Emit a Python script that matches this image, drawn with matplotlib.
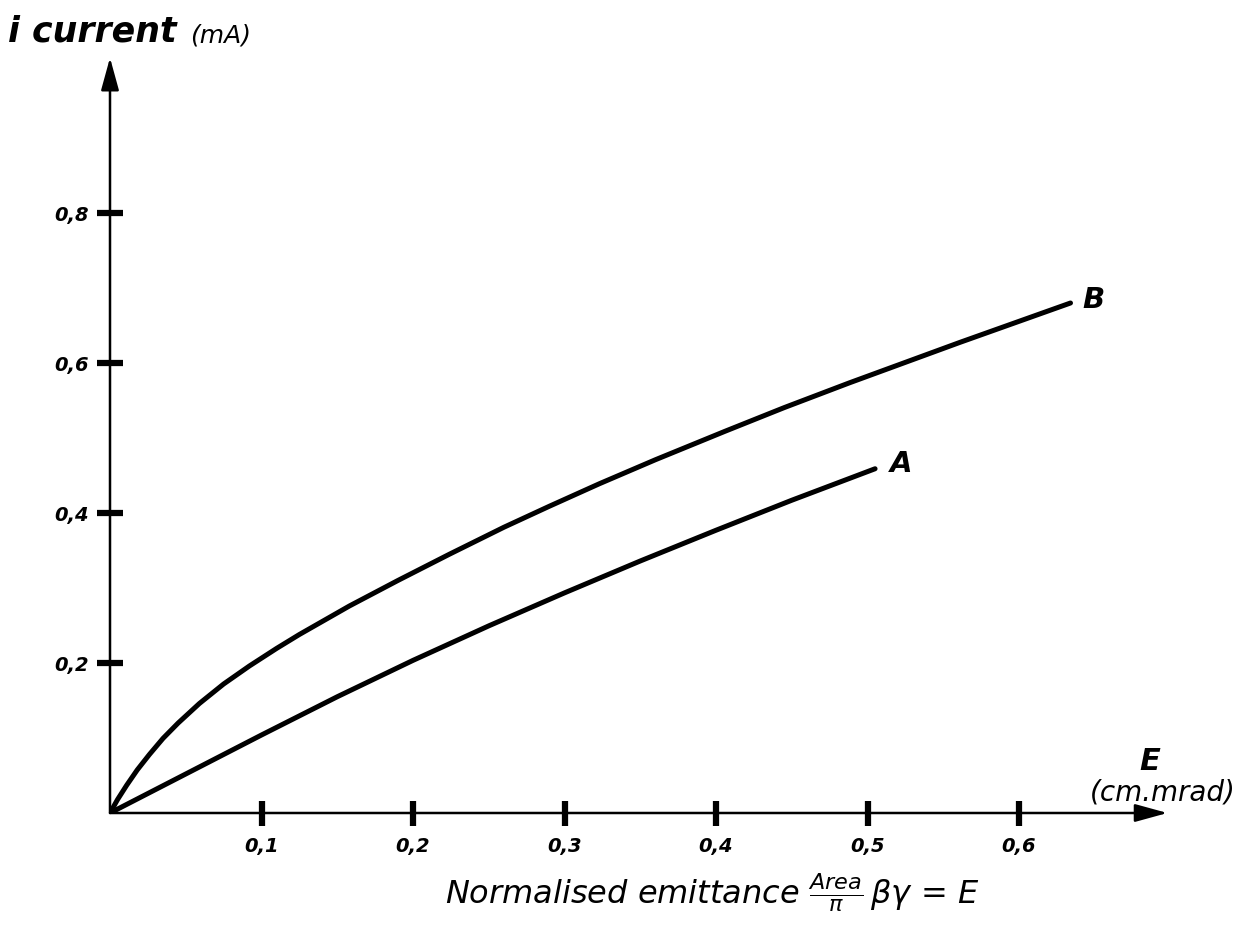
"""Current vs normalised emittance, curves A and B (hand-drawn style figure)."""
import numpy as np

import matplotlib
matplotlib.use("Agg")
import matplotlib.pyplot as plt

emit_a = [0.0, 0.05, 0.1, 0.15, 0.2, 0.25, 0.3, 0.35, 0.4, 0.45, 0.505]
curr_a = [0.0, 0.052, 0.104, 0.155, 0.2035, 0.2495, 0.2935, 0.336, 0.377, 0.417, 0.459]

emit_b = [0.0, 0.005, 0.011, 0.018, 0.026, 0.035, 0.045, 0.059, 0.075, 0.092,
          0.11, 0.125, 0.158, 0.19, 0.224, 0.26, 0.29, 0.323, 0.36, 0.406,
          0.445, 0.488, 0.561, 0.634]
curr_b = [0.0, 0.018, 0.037, 0.0575, 0.078, 0.0995, 0.12, 0.146, 0.172, 0.196,
          0.2195, 0.238, 0.276, 0.31, 0.345, 0.381, 0.409, 0.439, 0.471, 0.509,
          0.5405, 0.5735, 0.6275, 0.68]

x_ticks = [0.1, 0.2, 0.3, 0.4, 0.5, 0.6]
x_labels = ["0,1", "0,2", "0,3", "0,4", "0,5", "0,6"]
y_ticks = [0.2, 0.4, 0.6, 0.8]
y_labels = ["0,2", "0,4", "0,6", "0,8"]

W, H = 1256, 926
fig = plt.figure(figsize=(W / 100, H / 100), dpi=100)
# origin at pixel (110, 813); 1515 px per unit in x, 750 px per unit in y
x_max, y_max = 0.7, 1.0
ax = fig.add_axes([110 / W, (H - 813) / H, x_max * 1515 / W, y_max * 750 / H])
ax.set_xlim(0, x_max)
ax.set_ylim(0, y_max)
for s in ax.spines.values():
    s.set_visible(False)

font = dict(family="DejaVu Sans", style="italic", weight="bold")

ax.plot(emit_a, curr_a, color="black", lw=3.6, solid_capstyle="round", solid_joinstyle="round")
ax.plot(emit_b, curr_b, color="black", lw=3.6, solid_capstyle="round", solid_joinstyle="round")
ax.text(emit_a[-1] + 0.01, curr_a[-1] + 0.006, "A", fontsize=21, ha="left", va="center", **font)
ax.text(emit_b[-1] + 0.008, curr_b[-1] + 0.004, "B", fontsize=21, ha="left", va="center", **font)

# axes as arrows
arrow = dict(arrowstyle="-|>,head_length=2.0,head_width=0.55", color="black", lw=1.8,
             shrinkA=0, shrinkB=0)
ax.annotate("", xy=(0.698, 0), xytext=(0, 0), arrowprops=arrow, annotation_clip=False)
ax.annotate("", xy=(0, 1.007), xytext=(0, 0), arrowprops=arrow, annotation_clip=False)

ax.set_xticks(x_ticks)
ax.set_xticklabels(x_labels, fontsize=14, **font)
ax.set_yticks(y_ticks)
ax.set_yticklabels(y_labels, fontsize=14, **font)
ax.tick_params(axis="x", direction="inout", length=18, width=4.5, pad=8)
ax.tick_params(axis="y", direction="inout", length=19, width=4.5, pad=6)

fig.text(8 / W, 1 - 42 / H, "i current", fontsize=25, ha="left", va="baseline", **font)
fig.text(190 / W, 1 - 42 / H, "(mA)", fontsize=18, ha="left", va="baseline",
         family="DejaVu Sans", style="italic")

fig.text(1150 / W, 1 - 762 / H, "E", fontsize=22, ha="center", va="center", **font)
fig.text(1163 / W, 1 - 793 / H, "(cm.mrad)", fontsize=20, ha="center", va="center",
         family="DejaVu Sans", style="italic")

fig.text(712 / W, 1 - 893 / H,
         r"Normalised emittance $\frac{Area}{\pi}\,\beta\gamma$ = E",
         fontsize=23, ha="center", va="center", family="DejaVu Sans", style="italic")

fig.savefig("out.png", dpi=100)
